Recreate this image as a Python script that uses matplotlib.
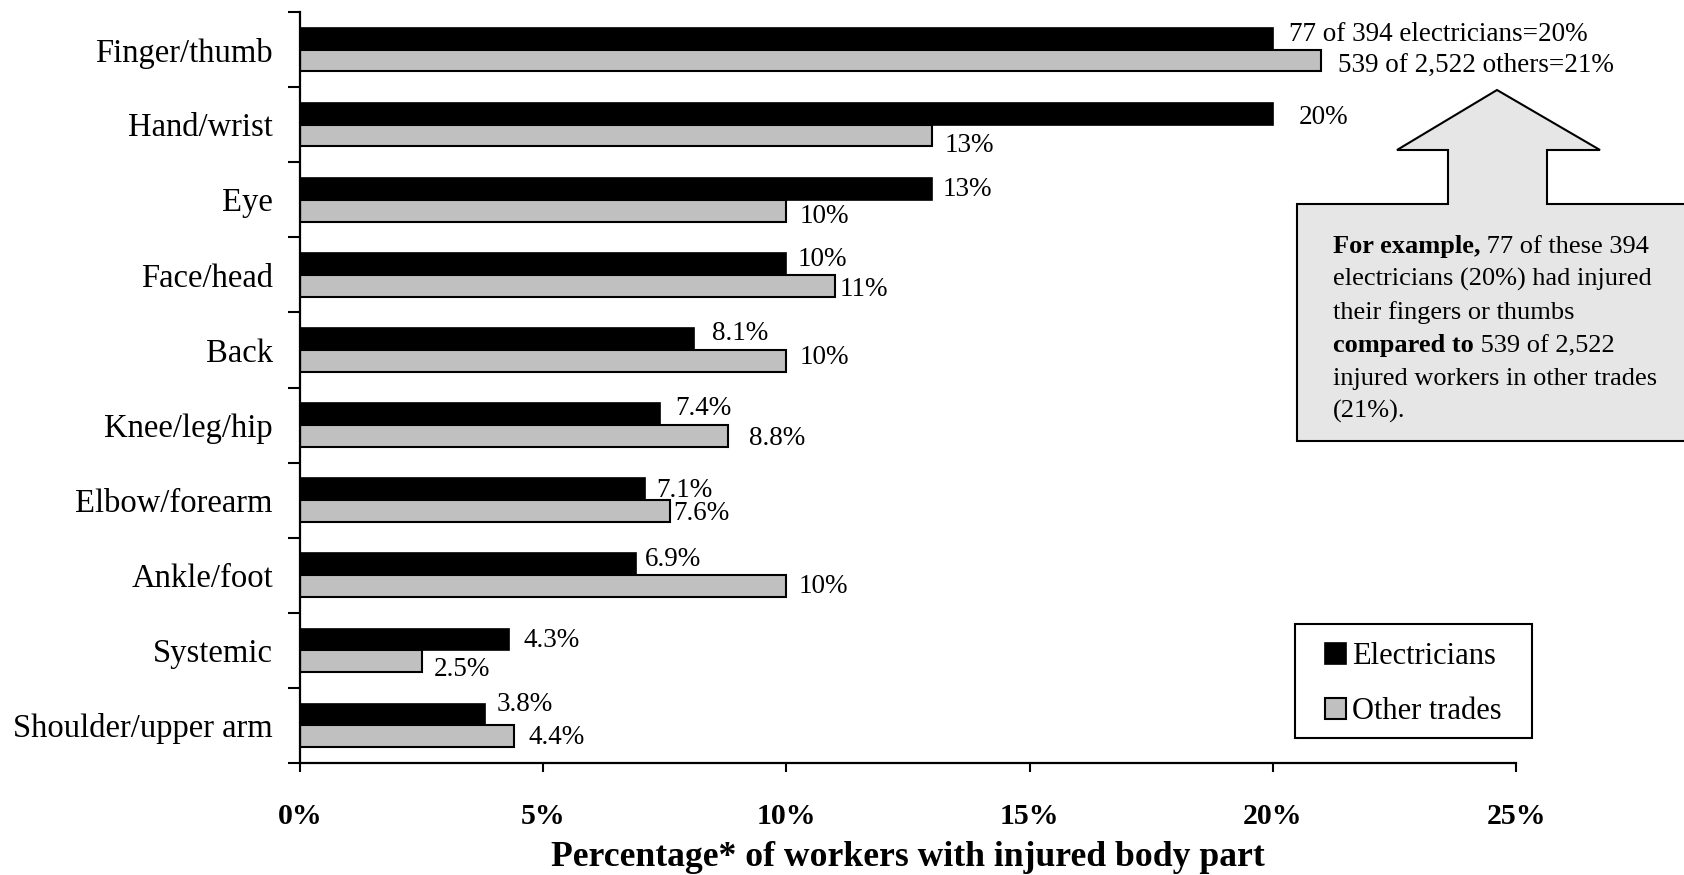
import matplotlib
matplotlib.use("Agg")
import matplotlib.pyplot as plt
from matplotlib.patches import Patch, Polygon, Rectangle
from matplotlib.ticker import FixedLocator, FuncFormatter

plt.rcParams['font.family'] = ['Liberation Serif', 'DejaVu Serif']

# ---- data -------------------------------------------------------------
categories = ["Finger/thumb", "Hand/wrist", "Eye", "Face/head", "Back",
              "Knee/leg/hip", "Elbow/forearm", "Ankle/foot", "Systemic",
              "Shoulder/upper arm"]
electricians = [20, 20, 13, 10, 8.1, 7.4, 7.1, 6.9, 4.3, 3.8]
other_trades = [21, 13, 10, 11, 10, 8.8, 7.6, 10, 2.5, 4.4]
x_ticks = [0, 5, 10, 15, 20, 25]

elec_text = [f"{v:g}%" for v in electricians]
other_text = [f"{v:g}%" for v in other_trades]
elec_text[0] = f"77 of 394 electricians={electricians[0]:g}%"
other_text[0] = f"539 of 2,522 others={other_trades[0]:g}%"

# hand placement of the value labels: (dx in %, dy in row units)
elec_nudge = [(0.34, -0.09), (0.53, 0.01), (0.22, -0.03), (0.23, -0.10),
              (0.37, -0.11), (0.31, -0.11), (0.22, -0.03), (0.20, -0.11),
              (0.29, -0.03), (0.24, -0.17)]
other_nudge = [(0.35, 0.03), (0.26, 0.09), (0.28, 0.04), (0.10, 0.01),
               (0.28, -0.09), (0.44, 0.00), (0.08, -0.01), (0.25, -0.03),
               (0.25, 0.07), (0.30, -0.03)]

W, H = 1684, 875
fig = plt.figure(figsize=(W / 100, H / 100), dpi=100)
ax = fig.add_axes([300 / W, 1 - 763 / H, (1516 - 300) / W, (763 - 12) / H])

pos = list(range(len(categories)))
bh = 0.29
ax.barh([p - bh / 2 for p in pos], electricians, height=bh, color='black',
        edgecolor='black', linewidth=1.2, label='Electricians')
ax.barh([p + bh / 2 for p in pos], other_trades, height=bh, color='#c0c0c0',
        edgecolor='black', linewidth=1.5, label='Other trades')

shift = 0.04
for p, v, t, (dx, dy) in zip(pos, electricians, elec_text, elec_nudge):
    ax.text(v + dx, p - bh / 2 + dy + shift, t, ha='left', va='center', fontsize=19.5)
for p, v, t, (dx, dy) in zip(pos, other_trades, other_text, other_nudge):
    ax.text(v + dx, p + bh / 2 + dy + shift, t, ha='left', va='center', fontsize=19.5)

ax.set_xlim(0, 25)
ax.set_ylim(len(categories) - 0.5, -0.5)

ax.set_xticks(x_ticks)
ax.xaxis.set_major_formatter(FuncFormatter(lambda v, _: f"{v:g}%"))
ax.tick_params(axis='x', direction='out', length=6.5, width=1.5, pad=22.5,
               labelsize=21.5)
for lab in ax.get_xticklabels():
    lab.set_fontweight('bold')

ax.set_yticks(pos)
ax.set_yticklabels(categories, fontsize=23.5)
ax.tick_params(axis='y', which='major', length=0, pad=19.5)
ax.yaxis.set_minor_locator(FixedLocator([p - 0.5 for p in pos] + [pos[-1] + 0.5]))
ax.tick_params(axis='y', which='minor', direction='out', length=8.6, width=1.5)

for side in ('top', 'right'):
    ax.spines[side].set_visible(False)
for side in ('left', 'bottom'):
    ax.spines[side].set_linewidth(1.6)

ax.set_xlabel("Percentage* of workers with injured body part", fontsize=25.7,
              fontweight='bold')
ax.xaxis.set_label_coords((908 - 300) / (1516 - 300), -(866 - 763) / (763 - 12))
ax.xaxis.label.set_va('baseline')


def px(x, y):
    return (x / W, 1 - y / H)


# callout box with an upward arrow
outline = [(1297, 441), (1297, 204), (1448, 204), (1448, 150), (1397, 150),
           (1497, 90), (1600, 150), (1547, 150), (1547, 204), (1720, 204),
           (1720, 441)]
fig.patches.append(Polygon([px(*q) for q in outline], closed=True,
                           transform=fig.transFigure, facecolor='#e6e6e6',
                           edgecolor='black', linewidth=1.5, clip_on=False))

lines = [("For example,", " 77 of these 394"),
         ("", "electricians (20%) had injured"),
         ("", "their fingers or thumbs"),
         ("compared to", " 539 of 2,522"),
         ("", "injured workers in other trades"),
         ("", "(21%).")]
renderer = fig.canvas.get_renderer()
y0, step = 253.0, 33.0
for i, (bold, plain) in enumerate(lines):
    x, y = px(1333, y0 + i * step)
    if bold:
        tb = fig.text(x, y, bold, fontsize=19, fontweight='bold',
                      ha='left', va='baseline')
        x_end = tb.get_window_extent(renderer).x1 / W
        fig.text(x_end, y, plain, fontsize=19, ha='left', va='baseline')
    else:
        fig.text(x, y, plain, fontsize=19, ha='left', va='baseline')

# legend with a square frame
fig.patches.append(Rectangle(px(1295, 738), (1532 - 1295) / W, (738 - 624) / H,
                             transform=fig.transFigure, facecolor='white',
                             edgecolor='black', linewidth=1.5))
handles = [Patch(facecolor='black', edgecolor='black', linewidth=1.2),
           Patch(facecolor='#c0c0c0', edgecolor='black', linewidth=1.5)]
fig.legend(handles, ['Electricians', 'Other trades'], loc='center',
           bbox_to_anchor=px(1413.5, 684), bbox_transform=fig.transFigure,
           frameon=False, fontsize=22, handlelength=0.69, handleheight=0.69,
           handletextpad=0.2, labelspacing=0.85, borderpad=0)

fig.savefig("out.png", dpi=100)
